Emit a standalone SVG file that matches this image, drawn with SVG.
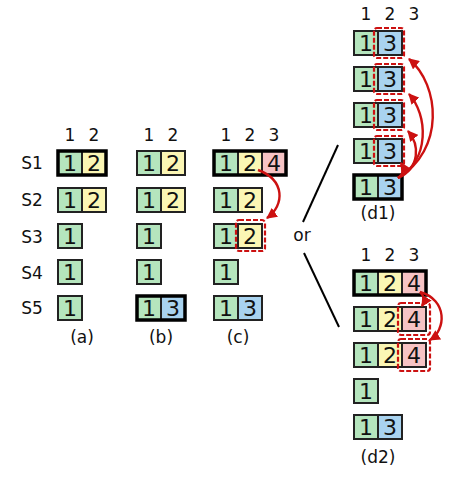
<svg xmlns="http://www.w3.org/2000/svg" width="473" height="481" viewBox="0 0 473 481">
<defs>
<style>
text{font-family:"DejaVu Sans",sans-serif;fill:#111;text-anchor:middle}
.n{font-size:22px}
.h{font-size:17px}
.c{stroke:#222;stroke-width:2}
.g{fill:#b5e5bd}.y{fill:#fbf6b4}.p{fill:#f6c3c4}.b{fill:#a9d3ef}
.lead{fill:none;stroke:#000;stroke-width:3.5}
.dash{fill:none;stroke:#cc1111;stroke-width:2.2;stroke-dasharray:5 2}
.arr{fill:none;stroke:#cc1111;stroke-width:2.4;marker-end:url(#ah)}
.ln{stroke:#000;stroke-width:2}
</style>
<marker id="ah" viewBox="0 0 10 10" refX="9" refY="5" markerWidth="4.5" markerHeight="4.5" orient="auto-start-reverse">
<path d="M0,0 L10,5 L0,10 z" fill="#cc1111"/>
</marker>
</defs>
<g id="labels">
<text class="h" x="32" y="169">S1</text>
<text class="h" x="32" y="206">S2</text>
<text class="h" x="32" y="243">S3</text>
<text class="h" x="32" y="279">S4</text>
<text class="h" x="32" y="314">S5</text>
<text class="h" x="70" y="141">1</text><text class="h" x="94" y="141">2</text>
<text class="h" x="149" y="141">1</text><text class="h" x="173" y="141">2</text>
<text class="h" x="226" y="141">1</text><text class="h" x="250" y="141">2</text><text class="h" x="274" y="141">3</text>
<text class="h" x="366" y="20">1</text><text class="h" x="390" y="20">2</text><text class="h" x="414" y="20">3</text>
<text class="h" x="366" y="261">1</text><text class="h" x="390" y="261">2</text><text class="h" x="414" y="261">3</text>
<text class="h" x="82" y="343">(a)</text>
<text class="h" x="161" y="343">(b)</text>
<text class="h" x="238" y="343">(c)</text>
<text class="h" x="378" y="219">(d1)</text>
<text class="h" x="378" y="463">(d2)</text>
<text class="h" x="302" y="241">or</text>
</g>
<g id="panel-a">
<rect class="c g" x="58" y="151" width="24" height="24"/><rect class="c y" x="82" y="151" width="24" height="24"/><rect class="lead" x="58" y="151" width="48" height="24"/>
<text class="n" x="70" y="171">1</text><text class="n" x="94" y="171">2</text>
<rect class="c g" x="58" y="188" width="24" height="24"/><rect class="c y" x="82" y="188" width="24" height="24"/>
<text class="n" x="70" y="208">1</text><text class="n" x="94" y="208">2</text>
<rect class="c g" x="58" y="224" width="24" height="24"/><text class="n" x="70" y="244">1</text>
<rect class="c g" x="58" y="260" width="24" height="24"/><text class="n" x="70" y="280">1</text>
<rect class="c g" x="58" y="296" width="24" height="24"/><text class="n" x="70" y="316">1</text>
</g>
<g id="panel-b">
<rect class="c g" x="137" y="151" width="24" height="24"/><rect class="c y" x="161" y="151" width="24" height="24"/>
<text class="n" x="149" y="171">1</text><text class="n" x="173" y="171">2</text>
<rect class="c g" x="137" y="188" width="24" height="24"/><rect class="c y" x="161" y="188" width="24" height="24"/>
<text class="n" x="149" y="208">1</text><text class="n" x="173" y="208">2</text>
<rect class="c g" x="137" y="224" width="24" height="24"/><text class="n" x="149" y="244">1</text>
<rect class="c g" x="137" y="260" width="24" height="24"/><text class="n" x="149" y="280">1</text>
<rect class="c g" x="137" y="296" width="24" height="24"/><rect class="c b" x="161" y="296" width="24" height="24"/><rect class="lead" x="137" y="296" width="48" height="24"/>
<text class="n" x="149" y="316">1</text><text class="n" x="173" y="316">3</text>
</g>
<g id="panel-c">
<rect class="c g" x="214" y="151" width="24" height="24"/><rect class="c y" x="238" y="151" width="24" height="24"/><rect class="c p" x="262" y="151" width="24" height="24"/><rect class="lead" x="214" y="151" width="72" height="24"/>
<text class="n" x="226" y="171">1</text><text class="n" x="250" y="171">2</text><text class="n" x="274" y="171">4</text>
<rect class="c g" x="214" y="188" width="24" height="24"/><rect class="c y" x="238" y="188" width="24" height="24"/>
<text class="n" x="226" y="208">1</text><text class="n" x="250" y="208">2</text>
<rect class="c g" x="214" y="224" width="24" height="24"/><rect class="c y" x="238" y="224" width="24" height="24"/>
<text class="n" x="226" y="244">1</text><text class="n" x="250" y="244">2</text>
<rect class="dash" x="236" y="220" width="29" height="31" rx="3"/>
<rect class="c g" x="214" y="260" width="24" height="24"/><text class="n" x="226" y="280">1</text>
<rect class="c g" x="214" y="296" width="24" height="24"/><rect class="c b" x="238" y="296" width="24" height="24"/>
<text class="n" x="226" y="316">1</text><text class="n" x="250" y="316">3</text>
</g>
<g id="panel-d1">
<rect class="c g" x="354" y="31" width="24" height="24"/><rect class="c b" x="378" y="31" width="24" height="24"/><text class="n" x="366" y="51">1</text><text class="n" x="390" y="51">3</text>
<rect class="dash" x="374" y="28" width="30" height="30" rx="3"/>
<rect class="c g" x="354" y="67" width="24" height="24"/><rect class="c b" x="378" y="67" width="24" height="24"/><text class="n" x="366" y="87">1</text><text class="n" x="390" y="87">3</text>
<rect class="dash" x="374" y="64" width="30" height="30" rx="3"/>
<rect class="c g" x="354" y="103" width="24" height="24"/><rect class="c b" x="378" y="103" width="24" height="24"/><text class="n" x="366" y="123">1</text><text class="n" x="390" y="123">3</text>
<rect class="dash" x="374" y="100" width="30" height="30" rx="3"/>
<rect class="c g" x="354" y="139" width="24" height="24"/><rect class="c b" x="378" y="139" width="24" height="24"/><text class="n" x="366" y="159">1</text><text class="n" x="390" y="159">3</text>
<rect class="dash" x="374" y="136" width="30" height="30" rx="3"/>
<rect class="c g" x="354" y="175" width="24" height="24"/><rect class="c b" x="378" y="175" width="24" height="24"/><rect class="lead" x="354" y="175" width="48" height="24"/>
<text class="n" x="366" y="195">1</text><text class="n" x="390" y="195">3</text>
</g>
<g id="panel-d2">
<rect class="c g" x="354" y="271" width="24" height="24"/><rect class="c y" x="378" y="271" width="24" height="24"/><rect class="c p" x="402" y="271" width="24" height="24"/><rect class="lead" x="354" y="271" width="72" height="24"/>
<text class="n" x="366" y="291">1</text><text class="n" x="390" y="291">2</text><text class="n" x="414" y="291">4</text>
<rect class="c g" x="354" y="307" width="24" height="24"/><rect class="c y" x="378" y="307" width="24" height="24"/><rect class="c p" x="402" y="307" width="24" height="24"/>
<text class="n" x="366" y="327">1</text><text class="n" x="390" y="327">2</text><text class="n" x="414" y="327">4</text>
<rect class="dash" x="398" y="303" width="32" height="32" rx="3"/>
<rect class="c g" x="354" y="343" width="24" height="24"/><rect class="c y" x="378" y="343" width="24" height="24"/><rect class="c p" x="402" y="343" width="24" height="24"/>
<text class="n" x="366" y="363">1</text><text class="n" x="390" y="363">2</text><text class="n" x="414" y="363">4</text>
<rect class="dash" x="398" y="339" width="32" height="32" rx="3"/>
<rect class="c g" x="354" y="379" width="24" height="24"/><text class="n" x="366" y="399">1</text>
<rect class="c g" x="354" y="415" width="24" height="24"/><rect class="c b" x="378" y="415" width="24" height="24"/>
<text class="n" x="366" y="435">1</text><text class="n" x="390" y="435">3</text>
</g>
<g id="connectors">
<line class="ln" x1="303" y1="222" x2="338" y2="145"/>
<line class="ln" x1="304" y1="253" x2="339" y2="327"/>
<path class="arr" d="M258,170 C285,180 285,205 267,218"/>
<path class="arr" d="M398,178 C404,174 404,168 401,163"/>
<path class="arr" d="M398,178 C420,168 420,145 408,131"/>
<path class="arr" d="M398,178 C430,160 428,115 409,94"/>
<path class="arr" d="M398,178 C445,150 440,85 409,59"/>
<path class="arr" d="M420,292 C424,296 425,301 422,306"/>
<path class="arr" d="M420,292 C448,300 446,330 430,340"/>
</g>
</svg>
